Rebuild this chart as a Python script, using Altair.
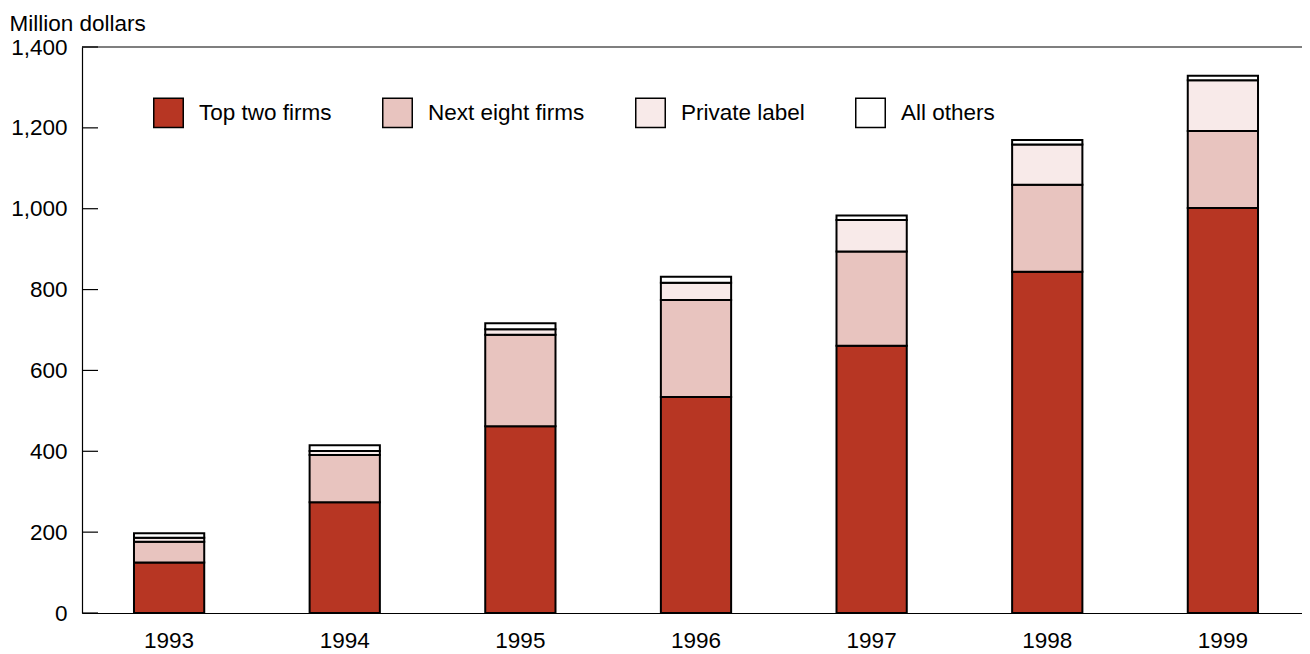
import altair as alt
import pandas as pd

years = ["1993", "1994", "1995", "1996", "1997", "1998", "1999"]
top_two = [125, 274, 462, 534, 661, 844, 1002]
next_eight = [51, 117, 226, 240, 233, 215, 190]
private_label = [10, 10, 14, 43, 78, 100, 126]
all_others = [11, 14, 15, 15, 11, 11, 11]

series_names = ["Top two firms", "Next eight firms", "Private label", "All others"]
series_values = [top_two, next_eight, private_label, all_others]
series_colors = ["#B73623", "#E8C4BF", "#F8EAE9", "#FFFFFF"]
y_ticks = [0, 200, 400, 600, 800, 1000, 1200, 1400]

rows = []
for si, (name, vals) in enumerate(zip(series_names, series_values)):
    for yr, v in zip(years, vals):
        rows.append({"year": yr, "segment": name, "value": v, "order": si})
df = pd.DataFrame(rows)
ticks_df = pd.DataFrame({"tick": y_ticks})

W, H = 1220, 566
FONT = "Liberation Sans"
FS = 22.5

y_axis = alt.Axis(title="Million dollars", values=y_ticks,
                  labelExpr="format(datum.value, ',')",
                  ticks=False, grid=False, labelPadding=15,
                  domainColor="black", domainWidth=1.2,
                  titleAngle=0, titleAlign="left", titleBaseline="alphabetic",
                  titleX=-73, titleY=-17, titleFontWeight="normal")
y_scale = alt.Scale(domain=[0, 1400], nice=False)

bars = alt.Chart(df).mark_bar(stroke="black", strokeWidth=2).encode(
    x=alt.X("year:N", sort=years,
            scale=alt.Scale(paddingInner=0.6, paddingOuter=0.296, range=[0, 1228]),
            axis=alt.Axis(title=None, labelAngle=0, ticks=False, labelPadding=16,
                          domainColor="black", domainWidth=1.2)),
    y=alt.Y("value:Q", stack="zero", scale=y_scale, axis=y_axis),
    color=alt.Color("segment:N", sort=series_names,
                    scale=alt.Scale(domain=series_names, range=series_colors),
                    legend=alt.Legend(title=None, orient="none", legendX=71, legendY=50,
                                      direction="horizontal", columns=4,
                                      columnPadding=47, symbolType="square",
                                      symbolSize=870, symbolStrokeColor="black",
                                      symbolStrokeWidth=1.5, labelOffset=15,
                                      labelFontSize=FS, labelFont=FONT,
                                      labelColor="black", padding=0)),
    order=alt.Order("order:Q", sort="ascending"),
)

tick_rules = alt.Chart(ticks_df).mark_rule(color="black", strokeWidth=1.2).encode(
    y=alt.Y("tick:Q", scale=y_scale, axis=y_axis),
    x=alt.value(0),
    x2=alt.value(16),
)

top_line = alt.Chart(pd.DataFrame({"a": [0]})).mark_rule(color="black", strokeWidth=1.2).encode(
    y=alt.value(0),
    x=alt.value(0),
    x2=alt.value(W),
)

chart = alt.layer(bars, tick_rules, top_line).properties(
    width=W, height=H,
    autosize=alt.AutoSizeParams(type="none"),
    padding={"left": 74, "top": 39, "right": 0, "bottom": 40},
).configure_view(stroke=None).configure_axis(
    labelFont=FONT, titleFont=FONT, labelFontSize=FS, titleFontSize=FS,
    labelColor="black", titleColor="black",
).configure_legend(labelFont=FONT)

chart.save("out.html", embed_options={"renderer": "svg", "actions": False})
